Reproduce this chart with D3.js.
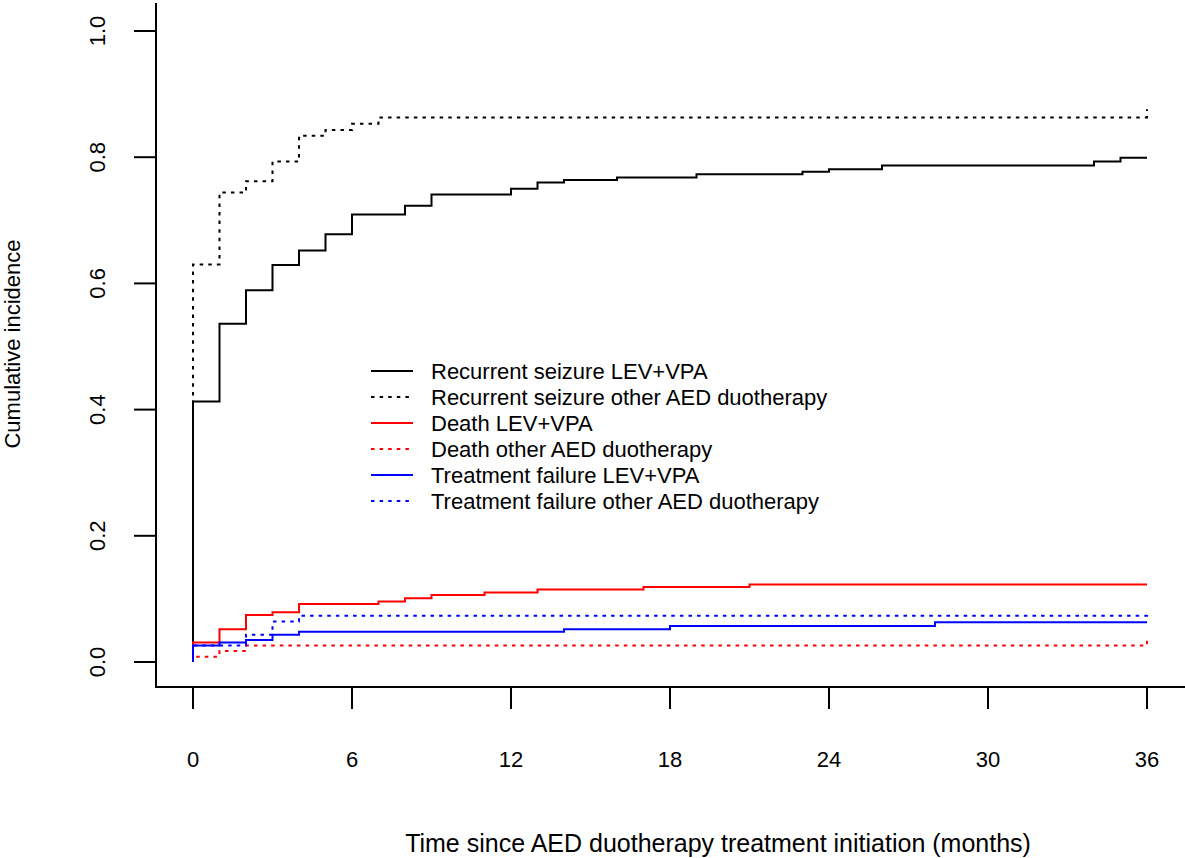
<!DOCTYPE html>
<html>
<head>
<meta charset="utf-8">
<script src="https://cdn.jsdelivr.net/npm/d3@7"></script>
<style>
  body{margin:0;background:#fff;}
  svg{display:block;font-family:"Liberation Sans",Arial,sans-serif;}
</style>
</head>
<body>
<svg id="chart" width="1185" height="858"></svg>
<script>
// step data: time (months) and cumulative incidence
const seizureLevT=[0,0,1,2,3,4,5,6,8,9,12,13,14,16,19,23,24,26,34,35,36];
const seizureLevV=[0,0.413,0.536,0.589,0.629,0.652,0.678,0.709,0.723,0.741,0.750,0.760,0.764,0.768,0.773,0.777,0.781,0.787,0.793,0.799,0.799];
const seizureOthT=[0,0,1,2,3,4,5,6,7,36,36];
const seizureOthV=[0,0.630,0.744,0.762,0.793,0.834,0.843,0.853,0.863,0.863,0.876];
const deathLevT=[0,0,1,2,3,4,7,8,9,11,13,17,21,36];
const deathLevV=[0,0.031,0.052,0.0745,0.079,0.092,0.096,0.101,0.106,0.110,0.115,0.119,0.123,0.123];
const deathOthT=[0,0,1,2,36,36];
const deathOthV=[0,0.0085,0.0174,0.026,0.026,0.039];
const failLevT=[0,0,1,2,3,4,14,18,28,36];
const failLevV=[0,0.026,0.031,0.035,0.043,0.048,0.052,0.057,0.063,0.063];
const failOthT=[0,0,2,3,4,36,36];
const failOthV=[0,0.026,0.043,0.064,0.0734,0.0734,0.081];

const seriesNames=["Recurrent seizure LEV+VPA","Recurrent seizure other AED duotherapy","Death LEV+VPA","Death other AED duotherapy","Treatment failure LEV+VPA","Treatment failure other AED duotherapy"];
const seriesColors=["#000","#000","#ff0000","#ff0000","#0000ff","#0000ff"];
const seriesDotted=[false,true,false,true,false,true];
const xTicks=[0,6,12,18,24,30,36];
const yTicks=[0,0.2,0.4,0.6,0.8,1.0];

const series=[
  [seizureLevT,seizureLevV],[seizureOthT,seizureOthV],
  [deathLevT,deathLevV],[deathOthT,deathOthV],
  [failLevT,failLevV],[failOthT,failOthV]
].map(([t,v],i)=>({name:seriesNames[i],color:seriesColors[i],dotted:seriesDotted[i],pts:t.map((d,j)=>[d,v[j]])}));

const svg=d3.select("#chart");
const x=d3.scaleLinear().domain([0,36]).range([193,1147]);
const y=d3.scaleLinear().domain([0,1]).range([662,31]);
const boxL=156, boxB=687, boxT=3, boxR=1185;
const dash="3.5,5.1";

// L-shaped box
svg.append("path")
  .attr("d",`M${boxL},${boxT}V${boxB}H${boxR}`)
  .attr("fill","none").attr("stroke","#000").attr("stroke-width",2);

// y ticks
const gy=svg.append("g");
gy.selectAll("line").data(yTicks).join("line")
  .attr("x1",boxL-22).attr("x2",boxL)
  .attr("y1",d=>y(d)).attr("y2",d=>y(d))
  .attr("stroke","#000").attr("stroke-width",2);
gy.selectAll("text").data(yTicks).join("text")
  .attr("transform",d=>`translate(97,${y(d)}) rotate(-90)`)
  .attr("text-anchor","middle").attr("dy","0.35em")
  .attr("font-size",22).text(d=>d3.format(".1f")(d));

// x ticks
const gx=svg.append("g");
gx.selectAll("line").data(xTicks).join("line")
  .attr("x1",d=>x(d)).attr("x2",d=>x(d))
  .attr("y1",boxB).attr("y2",boxB+22)
  .attr("stroke","#000").attr("stroke-width",2);
gx.selectAll("text").data(xTicks).join("text")
  .attr("x",d=>x(d)).attr("y",767)
  .attr("text-anchor","middle").attr("font-size",22).text(d=>d);

// axis titles
svg.append("text").attr("x",718).attr("y",852).attr("text-anchor","middle")
  .attr("font-size",25).text("Time since AED duotherapy treatment initiation (months)");
svg.append("text").attr("transform","translate(20,344) rotate(-90)").attr("text-anchor","middle")
  .attr("font-size",22).text("Cumulative incidence");

// step curves
const line=d3.line().x(d=>x(d[0])).y(d=>y(d[1])).curve(d3.curveStepAfter);
svg.append("g").selectAll("path").data(series).join("path")
  .attr("d",d=>line(d.pts))
  .attr("fill","none")
  .attr("stroke",d=>d.color).attr("stroke-width",2)
  .attr("stroke-dasharray",d=>d.dotted?dash:null);

// legend
const lg=svg.append("g");
const row=lg.selectAll("g").data(series).join("g")
  .attr("transform",(d,i)=>`translate(0,${371+i*26})`);
row.append("line").attr("x1",371).attr("x2",413).attr("y1",0).attr("y2",0)
  .attr("stroke",d=>d.color).attr("stroke-width",2)
  .attr("stroke-dasharray",d=>d.dotted?dash:null);
row.append("text").attr("x",431).attr("dy","0.35em").attr("font-size",22).text(d=>d.name);
</script>
</body>
</html>
